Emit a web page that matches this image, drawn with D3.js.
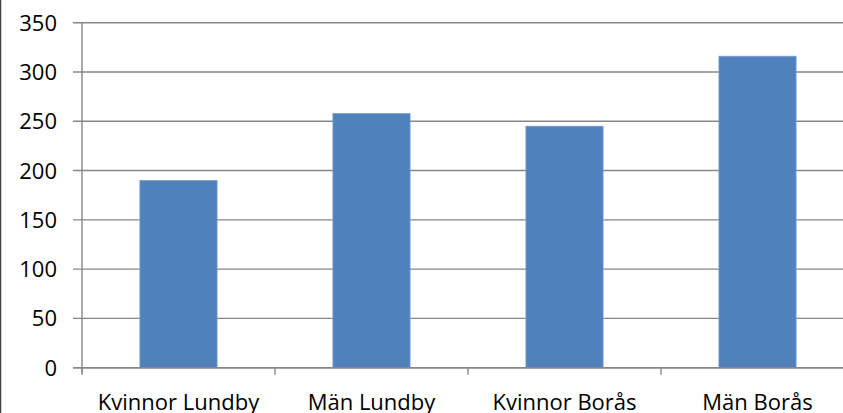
<!DOCTYPE html>
<meta charset="utf-8">
<script src="https://d3js.org/d3.v7.min.js"></script>
<style>
    body { margin: 0; background: #fff; }
    text { font-family: "Open Sans", "Noto Sans", sans-serif; fill: #000; }
</style>
<div id="chart"></div>
<script>
    // data
    var categories = ["Kvinnor Lundby", "Män Lundby", "Kvinnor Borås", "Män Borås"];
    var values = [190, 258, 245, 316];
    var yTicks = [0, 50, 100, 150, 200, 250, 300, 350];

    var W = 843, H = 413;
    var plotLeft = 82, plotTop = 22.7, plotBottom = 367.7;

    var svg = d3.select("#chart").append("svg")
        .attr("width", W).attr("height", H);

    // outer border of the chart area
    svg.append("rect")
        .attr("x", 0.5).attr("y", -2)
        .attr("width", W + 2).attr("height", H + 4)
        .attr("fill", "none").attr("stroke", "#404040").attr("stroke-width", 1.5);

    var x = d3.scaleBand()
        .domain(categories)
        .range([plotLeft, plotLeft + 193 * 4])
        .paddingInner(0.6).paddingOuter(0.3);

    var y = d3.scaleLinear().domain([0, 350]).range([plotBottom, plotTop]);

    // gridlines + y ticks
    svg.append("g").selectAll("line")
        .data(yTicks)
        .enter().append("line")
        .attr("x1", plotLeft - 9).attr("x2", W)
        .attr("y1", function(d) { return y(d); })
        .attr("y2", function(d) { return y(d); })
        .attr("stroke", "#878787").attr("stroke-width", 1.4);

    svg.append("g").selectAll("text")
        .data(yTicks)
        .enter().append("text")
        .attr("x", 57)
        .attr("y", function(d) { return y(d) + 8; })
        .attr("text-anchor", "end")
        .style("font-size", "22px")
        .text(function(d) { return d; });

    // y axis line
    svg.append("line")
        .attr("x1", plotLeft).attr("x2", plotLeft)
        .attr("y1", plotTop).attr("y2", plotBottom + 6)
        .attr("stroke", "#878787").attr("stroke-width", 1.4);

    // x tick marks at band boundaries
    var bounds = d3.range(categories.length + 1).map(function(i) { return plotLeft + x.step() * i; });
    svg.append("g").selectAll("line")
        .data(bounds)
        .enter().append("line")
        .attr("x1", function(d) { return d; }).attr("x2", function(d) { return d; })
        .attr("y1", plotBottom).attr("y2", plotBottom + 7)
        .attr("stroke", "#878787").attr("stroke-width", 1.4);

    // bars
    svg.append("g").selectAll("rect")
        .data(values)
        .enter().append("rect")
        .attr("x", function(d, i) { return x(categories[i]); })
        .attr("y", function(d) { return y(d); })
        .attr("width", x.bandwidth())
        .attr("height", function(d) { return plotBottom - y(d); })
        .attr("fill", "#4F81BD")
        .attr("stroke", "#7FA1CF").attr("stroke-width", 0.8);

    // x axis line on top of bars
    svg.append("line")
        .attr("x1", plotLeft - 9).attr("x2", W)
        .attr("y1", plotBottom).attr("y2", plotBottom)
        .attr("stroke", "#878787").attr("stroke-width", 1.4);

    // category labels
    svg.append("g").selectAll("text")
        .data(categories)
        .enter().append("text")
        .attr("x", function(d) { return x(d) + x.bandwidth() / 2; })
        .attr("y", 410)
        .attr("text-anchor", "middle")
        .style("font-size", "22px")
        .text(function(d) { return d; });
</script>
